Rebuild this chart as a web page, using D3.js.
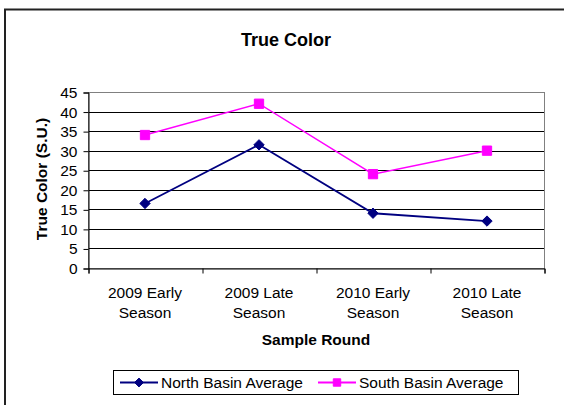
<!DOCTYPE html>
<html><head><meta charset="utf-8">
<script src="https://cdn.jsdelivr.net/npm/d3@7"></script>
<style>body{margin:0;background:#fff}svg{display:block;font-family:"Liberation Sans",Arial,sans-serif}</style>
</head><body><svg id="c" width="564" height="405"></svg>
<script>
const categories = [["2009 Early","Season"],["2009 Late","Season"],["2010 Early","Season"],["2010 Late","Season"]];
const northValues = [16.5, 31.5, 14, 12];
const southValues = [34, 42, 24, 30];
const yTicks = [0,5,10,15,20,25,30,35,40,45];
const seriesNames = ["North Basin Average","South Basin Average"];

const svg = d3.select("#c");
const M = {l:88, r:544, t:92, b:268};
const x = d3.scaleBand().domain(d3.range(categories.length)).range([M.l, M.r]);
const y = d3.scaleLinear().domain([0,45]).range([M.b, M.t]);

// outer chart border (left and top only visible)
svg.append("path").attr("d","M5,410 L5,9.5 L570,9.5").attr("fill","none").attr("stroke","#222").attr("stroke-width",2);

// gridlines
svg.append("g").selectAll("line").data(yTicks.filter(d=>d>0)).join("line")
  .attr("x1",M.l).attr("x2",M.r).attr("y1",d=>Math.round(y(d))+0.5).attr("y2",d=>Math.round(y(d))+0.5)
  .attr("stroke","#000").attr("stroke-width",1);
// plot border
svg.append("rect").attr("x",M.l+0.5).attr("y",M.t+0.5).attr("width",M.r-M.l).attr("height",M.b-M.t)
  .attr("fill","none").attr("stroke","#808080");

// y axis
const ya = svg.append("g").attr("transform",`translate(${M.l+0.5},0.5)`)
  .call(d3.axisLeft(y).tickValues(yTicks).tickSize(5).tickPadding(6));
ya.select(".domain").attr("stroke","#000");
ya.selectAll(".tick line").attr("stroke","#000");
ya.selectAll("text").attr("font-size","15.5px").attr("fill","#000").attr("font-family","Liberation Sans, Arial, sans-serif");

// x axis
const xb = d3.scaleLinear().domain([0,categories.length]).range([M.l,M.r]);
const xa = svg.append("g").attr("transform",`translate(0.5,${M.b+0.5})`)
  .call(d3.axisBottom(xb).tickValues(d3.range(categories.length+1)).tickSize(5).tickFormat(""));
xa.select(".domain").attr("stroke","#000");
xa.selectAll(".tick line").attr("stroke","#000");

// category labels
const cl = svg.append("g").selectAll("text").data(categories).join("text")
  .attr("x",(d,i)=>x(i)+x.bandwidth()/2).attr("text-anchor","middle").attr("font-size","15.5px");
cl.append("tspan").attr("x",(d,i)=>x(i)+x.bandwidth()/2).attr("y",298).text(d=>d[0]);
cl.append("tspan").attr("x",(d,i)=>x(i)+x.bandwidth()/2).attr("y",318).text(d=>d[1]);

// titles
svg.append("text").attr("x",286).attr("y",46).attr("text-anchor","middle").attr("font-size","18px").attr("font-weight","bold").text("True Color");
svg.append("text").attr("x",316).attr("y",345).attr("text-anchor","middle").attr("font-size","15.5px").attr("font-weight","bold").text("Sample Round");
svg.append("text").attr("transform","translate(47,179) rotate(-90)").attr("text-anchor","middle").attr("font-size","15.5px").attr("font-weight","bold").text("True Color (S.U.)");

const cx = i => x(i)+x.bandwidth()/2;
const line = d3.line().x((d,i)=>cx(i)).y(d=>y(d));
const diamond = d3.symbol().type(d3.symbolDiamond2).size(68);
const square = d3.symbol().type(d3.symbolSquare2).size(110);

svg.append("path").datum(southValues).attr("d",line).attr("fill","none").attr("stroke","#FF00FF").attr("stroke-width",1.5);
svg.append("g").selectAll("path").data(southValues).join("path")
  .attr("transform",(d,i)=>`translate(${cx(i)},${y(d)})`).attr("d",square).attr("fill","#FF00FF").attr("stroke","#FF00FF").attr("stroke-width",1);
svg.append("path").datum(northValues).attr("d",line).attr("fill","none").attr("stroke","#000080").attr("stroke-width",1.8);
svg.append("g").selectAll("path").data(northValues).join("path")
  .attr("transform",(d,i)=>`translate(${cx(i)},${y(d)})`).attr("d",diamond).attr("fill","#000080").attr("stroke","#000080").attr("stroke-width",1);

// legend
const lg = svg.append("g");
lg.append("rect").attr("x",113.5).attr("y",370.5).attr("width",405).attr("height",24).attr("fill","#fff").attr("stroke","#000");
const items = [{name:seriesNames[0], color:"#000080", type:d3.symbolDiamond2, sz:50, x0:120},{name:seriesNames[1], color:"#FF00FF", type:d3.symbolSquare2, sz:70, x0:318}];
items.forEach(it=>{
  lg.append("line").attr("x1",it.x0).attr("x2",it.x0+38).attr("y1",382.5).attr("y2",382.5).attr("stroke",it.color).attr("stroke-width",1.8);
  lg.append("path").attr("transform",`translate(${it.x0+19},382.5)`).attr("d",d3.symbol().type(it.type).size(it.sz)).attr("fill",it.color).attr("stroke",it.color);
  lg.append("text").attr("x",it.x0+41).attr("y",388).attr("font-size","15.5px").text(it.name);
});
</script></body></html>
